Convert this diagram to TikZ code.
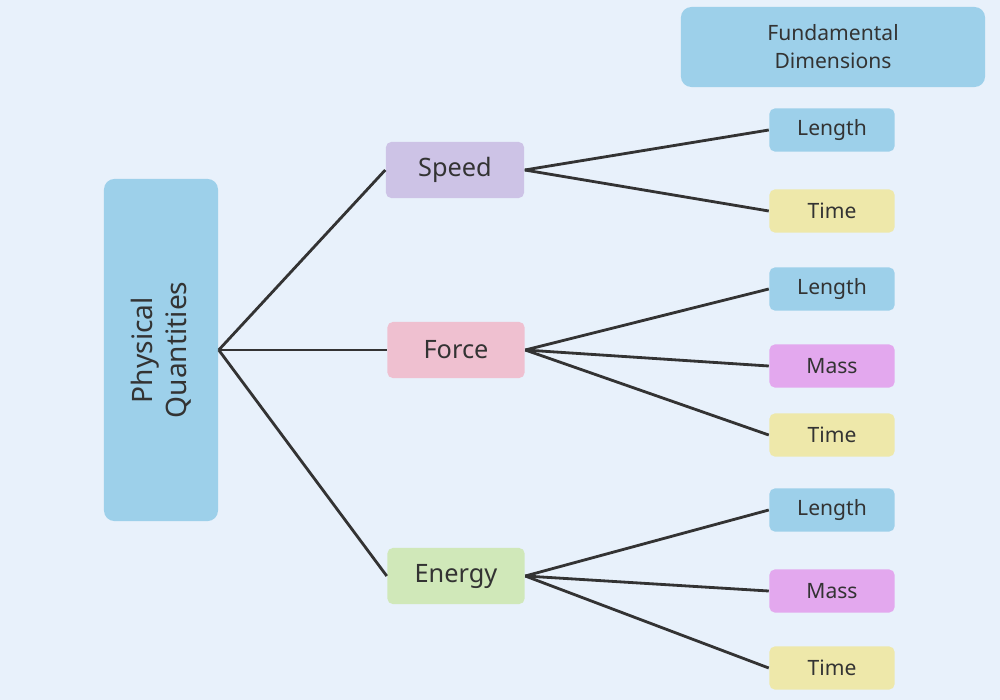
\documentclass[tikz,border=0pt]{standalone}
\usepackage{fontspec}
\setmainfont{Noto Sans}
\begin{document}
\begin{tikzpicture}[x=0.01cm,y=-0.01cm,
 box/.style={draw=none,rounded corners=1.5pt,inner sep=0pt,font=\bfseries,text=black!80},
 mid/.style={box,minimum width=138\pgflinewidth,font=\bfseries\fontsize{7.2}{8}\selectfont},
 leaf/.style={box,minimum width=1.25cm,minimum height=0.43cm,font=\bfseries\fontsize{6}{7}\selectfont},
 ln/.style={draw=black!80,line width=0.8pt}]
\definecolor{bg}{HTML}{E8F1FB}
\definecolor{cb}{HTML}{9DD0EA}
\definecolor{cs}{HTML}{CDC3E6}
\definecolor{cf}{HTML}{EFC0D0}
\definecolor{ce}{HTML}{D0E8B9}
\definecolor{cy}{HTML}{EEE8AA}
\definecolor{cm}{HTML}{E3A8EE}
\fill[bg] (0,0) rectangle (1000,700);
\useasboundingbox (0,0) rectangle (1000,700);
\node[box,fill=cb,minimum width=1.14cm,minimum height=3.42cm,rounded corners=3pt] (root) at (161,350) {};
\node[font=\bfseries\fontsize{8}{9.5}\selectfont,text=black!80,rotate=90,align=center] at (161,350) {Physical\\Quantities};
\node[box,fill=cb,minimum width=3.04cm,minimum height=0.8cm,rounded corners=3pt,align=center,font=\bfseries\fontsize{6}{8}\selectfont] (fd) at (833,47) {Fundamental\\Dimensions};
\node[box,fill=cs,minimum width=1.38cm,minimum height=0.56cm,font=\bfseries\fontsize{7.2}{8}\selectfont] (sp) at (455,170) {Speed};
\node[box,fill=cf,minimum width=1.37cm,minimum height=0.56cm,font=\bfseries\fontsize{7.2}{8}\selectfont] (fo) at (456,350) {Force};
\node[box,fill=ce,minimum width=1.37cm,minimum height=0.56cm,font=\bfseries\fontsize{7.2}{8}\selectfont] (en) at (456,576) {Energy};
\node[leaf,fill=cb] (l1) at (832,130) {Length};
\node[leaf,fill=cy] (t1) at (832,211) {Time};
\node[leaf,fill=cb] (l2) at (832,289) {Length};
\node[leaf,fill=cm] (m2) at (832,366) {Mass};
\node[leaf,fill=cy] (t2) at (832,435) {Time};
\node[leaf,fill=cb] (l3) at (832,510) {Length};
\node[leaf,fill=cm] (m3) at (832,591) {Mass};
\node[leaf,fill=cy] (t3) at (832,668) {Time};
\draw[ln] (root.east) -- (sp.west);
\draw[ln] (root.east) -- (fo.west);
\draw[ln] (root.east) -- (en.west);
\foreach \a/\b in {sp/l1,sp/t1,fo/l2,fo/m2,fo/t2,en/l3,en/m3,en/t3}
  \draw[ln] (\a.east) -- (\b.west);
\end{tikzpicture}
\end{document}
